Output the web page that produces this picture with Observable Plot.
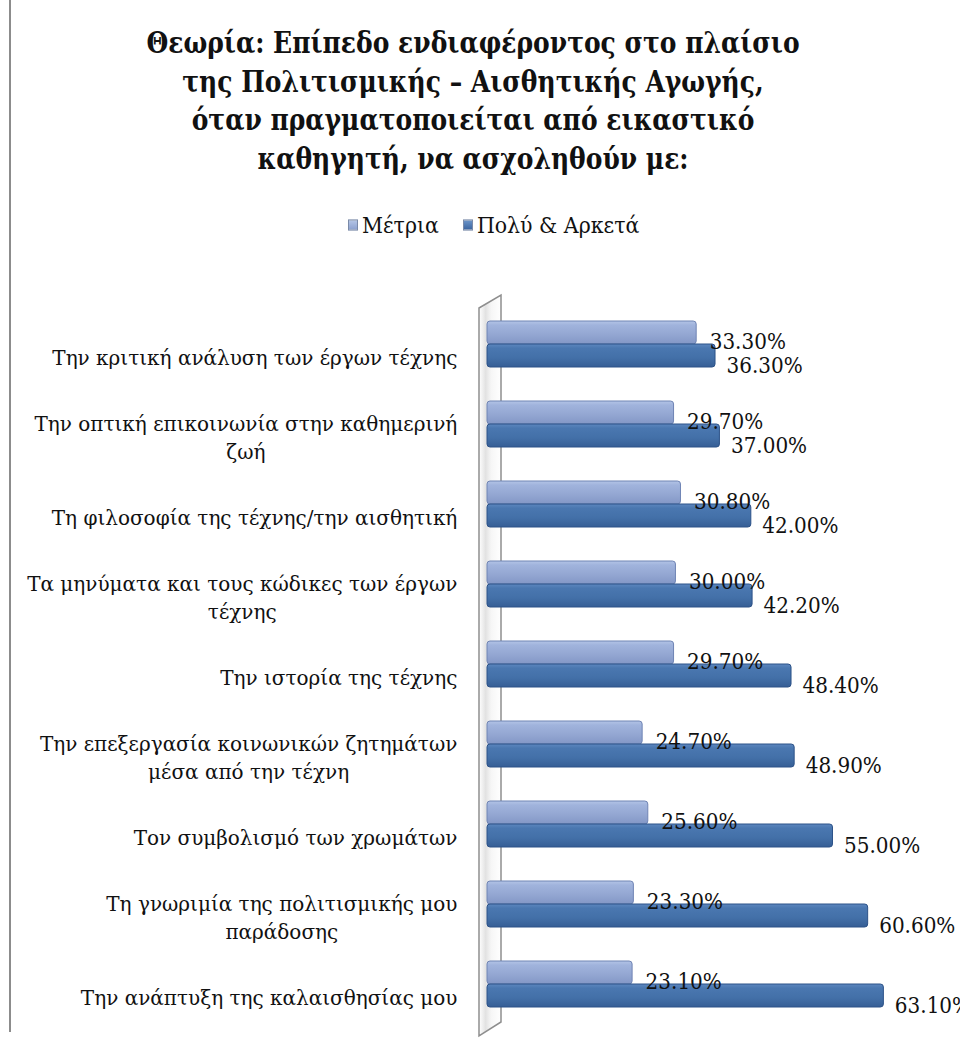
<!DOCTYPE html>
<html>
<head>
<meta charset="utf-8">
<script src="https://cdn.jsdelivr.net/npm/d3@7"></script>
<script src="https://cdn.jsdelivr.net/npm/@observablehq/plot@0.6"></script>
<style>
  body { margin: 0; background: #fff; width: 960px; height: 1042px; position: relative; overflow: hidden; font-family: "DejaVu Serif", serif; color: #111; }
  #border { position: absolute; left: 9px; top: 0; width: 2px; height: 1032px; background: #8c8c8c; }
  #title { position: absolute; top: 24px; left: 0; width: 946px; text-align: center; font-weight: bold; font-size: 25px; line-height: 32.5px; transform: scaleY(1.19); transform-origin: top center; }
  #legend { position: absolute; top: 212px; left: 348px; height: 26px; display: flex; align-items: center; font-size: 20.5px; transform: scaleY(1.12); transform-origin: center; white-space: nowrap; }
  .sw { display: inline-block; width: 10px; height: 10px; margin-right: 4px; border: 1px solid #7a8aa8; box-sizing: border-box; }
  .item { display: flex; align-items: center; margin-right: 24px; }
  #chart { position: absolute; top: 240px; left: 0; }
</style>
</head>
<body>
<div id="border"></div>
<div id="title"></div>
<div id="legend"></div>
<div id="chart"></div>
<script>
const titleLines = [
  "Θεωρία: Επίπεδο ενδιαφέροντος στο πλαίσιο",
  "της Πολιτισμικής – Αισθητικής Αγωγής,",
  "όταν πραγματοποιείται από εικαστικό",
  "καθηγητή, να ασχοληθούν με:"
];
const categories = [
  "Την κριτική ανάλυση των έργων τέχνης",
  "Την οπτική επικοινωνία στην καθημερινή\nζωή",
  "Τη φιλοσοφία της τέχνης/την αισθητική",
  "Τα μηνύματα και τους κώδικες των έργων\nτέχνης",
  "Την ιστορία της τέχνης",
  "Την επεξεργασία κοινωνικών ζητημάτων\nμέσα από την τέχνη",
  "Τον συμβολισμό των χρωμάτων",
  "Τη γνωριμία της πολιτισμικής μου\nπαράδοσης",
  "Την ανάπτυξη της καλαισθησίας μου"
];
const seriesNames = ["Μέτρια", "Πολύ & Αρκετά"];
const metria = [33.3, 29.7, 30.8, 30.0, 29.7, 24.7, 25.6, 23.3, 23.1];
const polyArketa = [36.3, 37.0, 42.0, 42.2, 48.4, 48.9, 55.0, 60.6, 63.1];

const colors = {
  light: { fill: "url(#gradLight)", stroke: "#6f84b4", swatch: "linear-gradient(#b4c5e6,#8ea2cf)" },
  dark: { fill: "url(#gradDark)", stroke: "#2c5288", swatch: "linear-gradient(#6a93c8,#3b65a0)" }
};

document.getElementById("title").innerHTML = titleLines.map(l => `<div>${l}</div>`).join("");
document.getElementById("legend").innerHTML =
  `<span class="item"><span class="sw" style="background:${colors.light.swatch}"></span>${seriesNames[0]}</span>` +
  `<span class="item"><span class="sw" style="background:${colors.dark.swatch}"></span>${seriesNames[1]}</span>`;

const rowsLight = categories.map((c, i) => ({cat: c, value: metria[i], series: seriesNames[0]}));
const rowsDark = categories.map((c, i) => ({cat: c, value: polyArketa[i], series: seriesNames[1]}));
const fmt = d => d.value.toFixed(2) + "%";

const FONT = '"DejaVu Serif", serif';
const labelSize = 20;
const valueSize = 20;
const SY_LABEL = 1.06;
const SY_VALUE = 1.16;

const ctx = document.createElement("canvas").getContext("2d");
ctx.font = `${labelSize}px ${FONT}`;
const blockWidth = c => Math.max(...c.split("\n").map(s => ctx.measureText(s).width));

const step = 80.875;
const r0 = 59.6;

function defsMark() {
  const svgns = "http://www.w3.org/2000/svg";
  const defs = document.createElementNS(svgns, "defs");
  defs.innerHTML = `
    <linearGradient id="gradLight" x1="0" y1="0" x2="0" y2="1">
      <stop offset="0" stop-color="#b3c4e6"/>
      <stop offset="0.18" stop-color="#a0b3dc"/>
      <stop offset="0.55" stop-color="#95a8d3"/>
      <stop offset="1" stop-color="#8397c6"/>
    </linearGradient>
    <linearGradient id="gradDark" x1="0" y1="0" x2="0" y2="1">
      <stop offset="0" stop-color="#5d87bf"/>
      <stop offset="0.18" stop-color="#4a77b0"/>
      <stop offset="0.6" stop-color="#4370a8"/>
      <stop offset="1" stop-color="#365e95"/>
    </linearGradient>
    <linearGradient id="gradWall" x1="0" y1="0" x2="1" y2="0">
      <stop offset="0" stop-color="#ffffff"/>
      <stop offset="0.3" stop-color="#e2e2e2"/>
      <stop offset="0.55" stop-color="#f6f6f6"/>
      <stop offset="1" stop-color="#ffffff"/>
    </linearGradient>`;
  return defs;
}

function wallMark(index, scales) {
  const svgns = "http://www.w3.org/2000/svg";
  const x0 = scales.x(0);
  const [ya, yb] = scales.y.range();
  const g = document.createElementNS(svgns, "g");
  const p = document.createElementNS(svgns, "polygon");
  const pts = [[x0 - 8, ya + 8.4], [x0 + 14, ya - 4.6], [x0 + 14, yb - 5.5], [x0 - 8, yb + 8.5]];
  p.setAttribute("points", pts.map(d => d.join(",")).join(" "));
  p.setAttribute("fill", "url(#gradWall)");
  p.setAttribute("stroke", "#8e8e8e");
  p.setAttribute("stroke-width", "1.5");
  g.appendChild(p);
  return g;
}

const labelMarks = categories.map(c => Plot.text([c], {
  y: d => d,
  text: d => d,
  frameAnchor: "left",
  textAnchor: "middle",
  dx: -30 - blockWidth(c) / 2,
  dy: 12,
  lineHeight: 1.32,
  fontSize: labelSize,
  fontFamily: FONT,
  fill: "#111",
  className: "catlabel"
}));

const chart = Plot.plot({
  width: 960,
  height: 802,
  marginLeft: 487,
  marginRight: 0,
  marginTop: 0,
  marginBottom: 0,
  style: { background: "transparent", overflow: "visible" },
  x: { domain: [0, 75.3], axis: null },
  y: { domain: categories, range: [r0, r0 + 9 * step], paddingInner: 0.43, paddingOuter: 0.215, axis: null },
  marks: [
    defsMark,
    wallMark,
    Plot.barX(rowsLight, { y: "cat", x: "value", insetBottom: 23, fill: colors.light.fill, stroke: colors.light.stroke, strokeWidth: 1, rx: 3 }),
    Plot.barX(rowsDark, { y: "cat", x: "value", insetTop: 23, fill: colors.dark.fill, stroke: colors.dark.stroke, strokeWidth: 1, rx: 3 }),
    Plot.text(rowsLight, { y: "cat", x: "value", text: fmt, textAnchor: "start", dx: 13, dy: -3, fontSize: valueSize, fontFamily: FONT, fill: "#111", className: "vallabel" }),
    Plot.text(rowsDark, { y: "cat", x: "value", text: fmt, textAnchor: "start", dx: 11, dy: 21, fontSize: valueSize, fontFamily: FONT, fill: "#111", className: "vallabel" }),
    ...labelMarks
  ]
});

// emulate the vertically stretched look of the original picture
chart.querySelectorAll("text").forEach(t => {
  const tr = t.getAttribute("transform");
  if (!tr) return;
  const isVal = t.closest(".vallabel") !== null;
  t.setAttribute("transform", tr + ` scale(1,${isVal ? SY_VALUE : SY_LABEL})`);
});

document.getElementById("chart").appendChild(chart);
</script>
</body>
</html>
